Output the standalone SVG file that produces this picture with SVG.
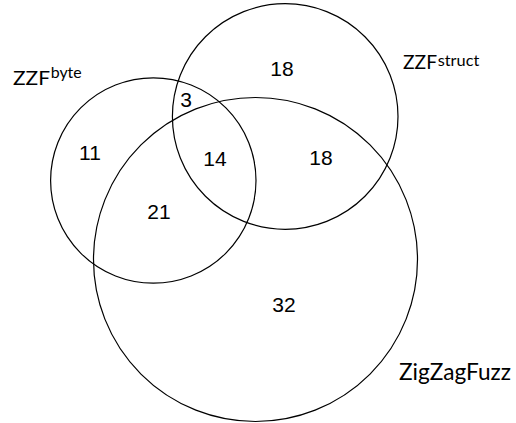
<svg xmlns="http://www.w3.org/2000/svg" width="516" height="423" viewBox="0 0 516 423">
<style>
.c{fill:none;stroke:#000;stroke-width:1.2}
.n{font-family:"Liberation Sans",Arial,sans-serif;font-size:21px;fill:#000;text-anchor:middle}
.l{font-family:Lato,"Open Sans",sans-serif;fill:#000}
</style>
<rect width="516" height="423" fill="#fff"/>
<g id="zzf-byte">
<circle class="c" cx="153.3" cy="180.5" r="102.7"/>
<text class="l" x="13" y="85" font-size="19.5" textLength="37" lengthAdjust="spacingAndGlyphs">ZZF</text>
<text class="l" x="50.7" y="77.5" font-size="16" textLength="31" lengthAdjust="spacingAndGlyphs">byte</text>
</g>
<g id="zzf-struct">
<circle class="c" cx="285.2" cy="116.5" r="112.8"/>
<text class="l" x="403" y="69.3" font-size="20" textLength="34" lengthAdjust="spacingAndGlyphs">ZZF</text>
<text class="l" x="437.7" y="66" font-size="16" textLength="41.6" lengthAdjust="spacingAndGlyphs">struct</text>
</g>
<g id="zigzagfuzz">
<circle class="c" cx="255.5" cy="259.5" r="162"/>
<text class="l" x="399" y="380" font-size="22.5" textLength="112" lengthAdjust="spacingAndGlyphs">ZigZagFuzz</text>
</g>
<g id="counts">
<text class="n" x="90" y="160">11</text>
<text class="n" x="186" y="106.7">3</text>
<text class="n" x="215" y="166">14</text>
<text class="n" x="159" y="219.3">21</text>
<text class="n" x="282" y="76">18</text>
<text class="n" x="321" y="165">18</text>
<text class="n" x="284" y="311.7">32</text>
</g>
<g id="connectors"/>
</svg>
